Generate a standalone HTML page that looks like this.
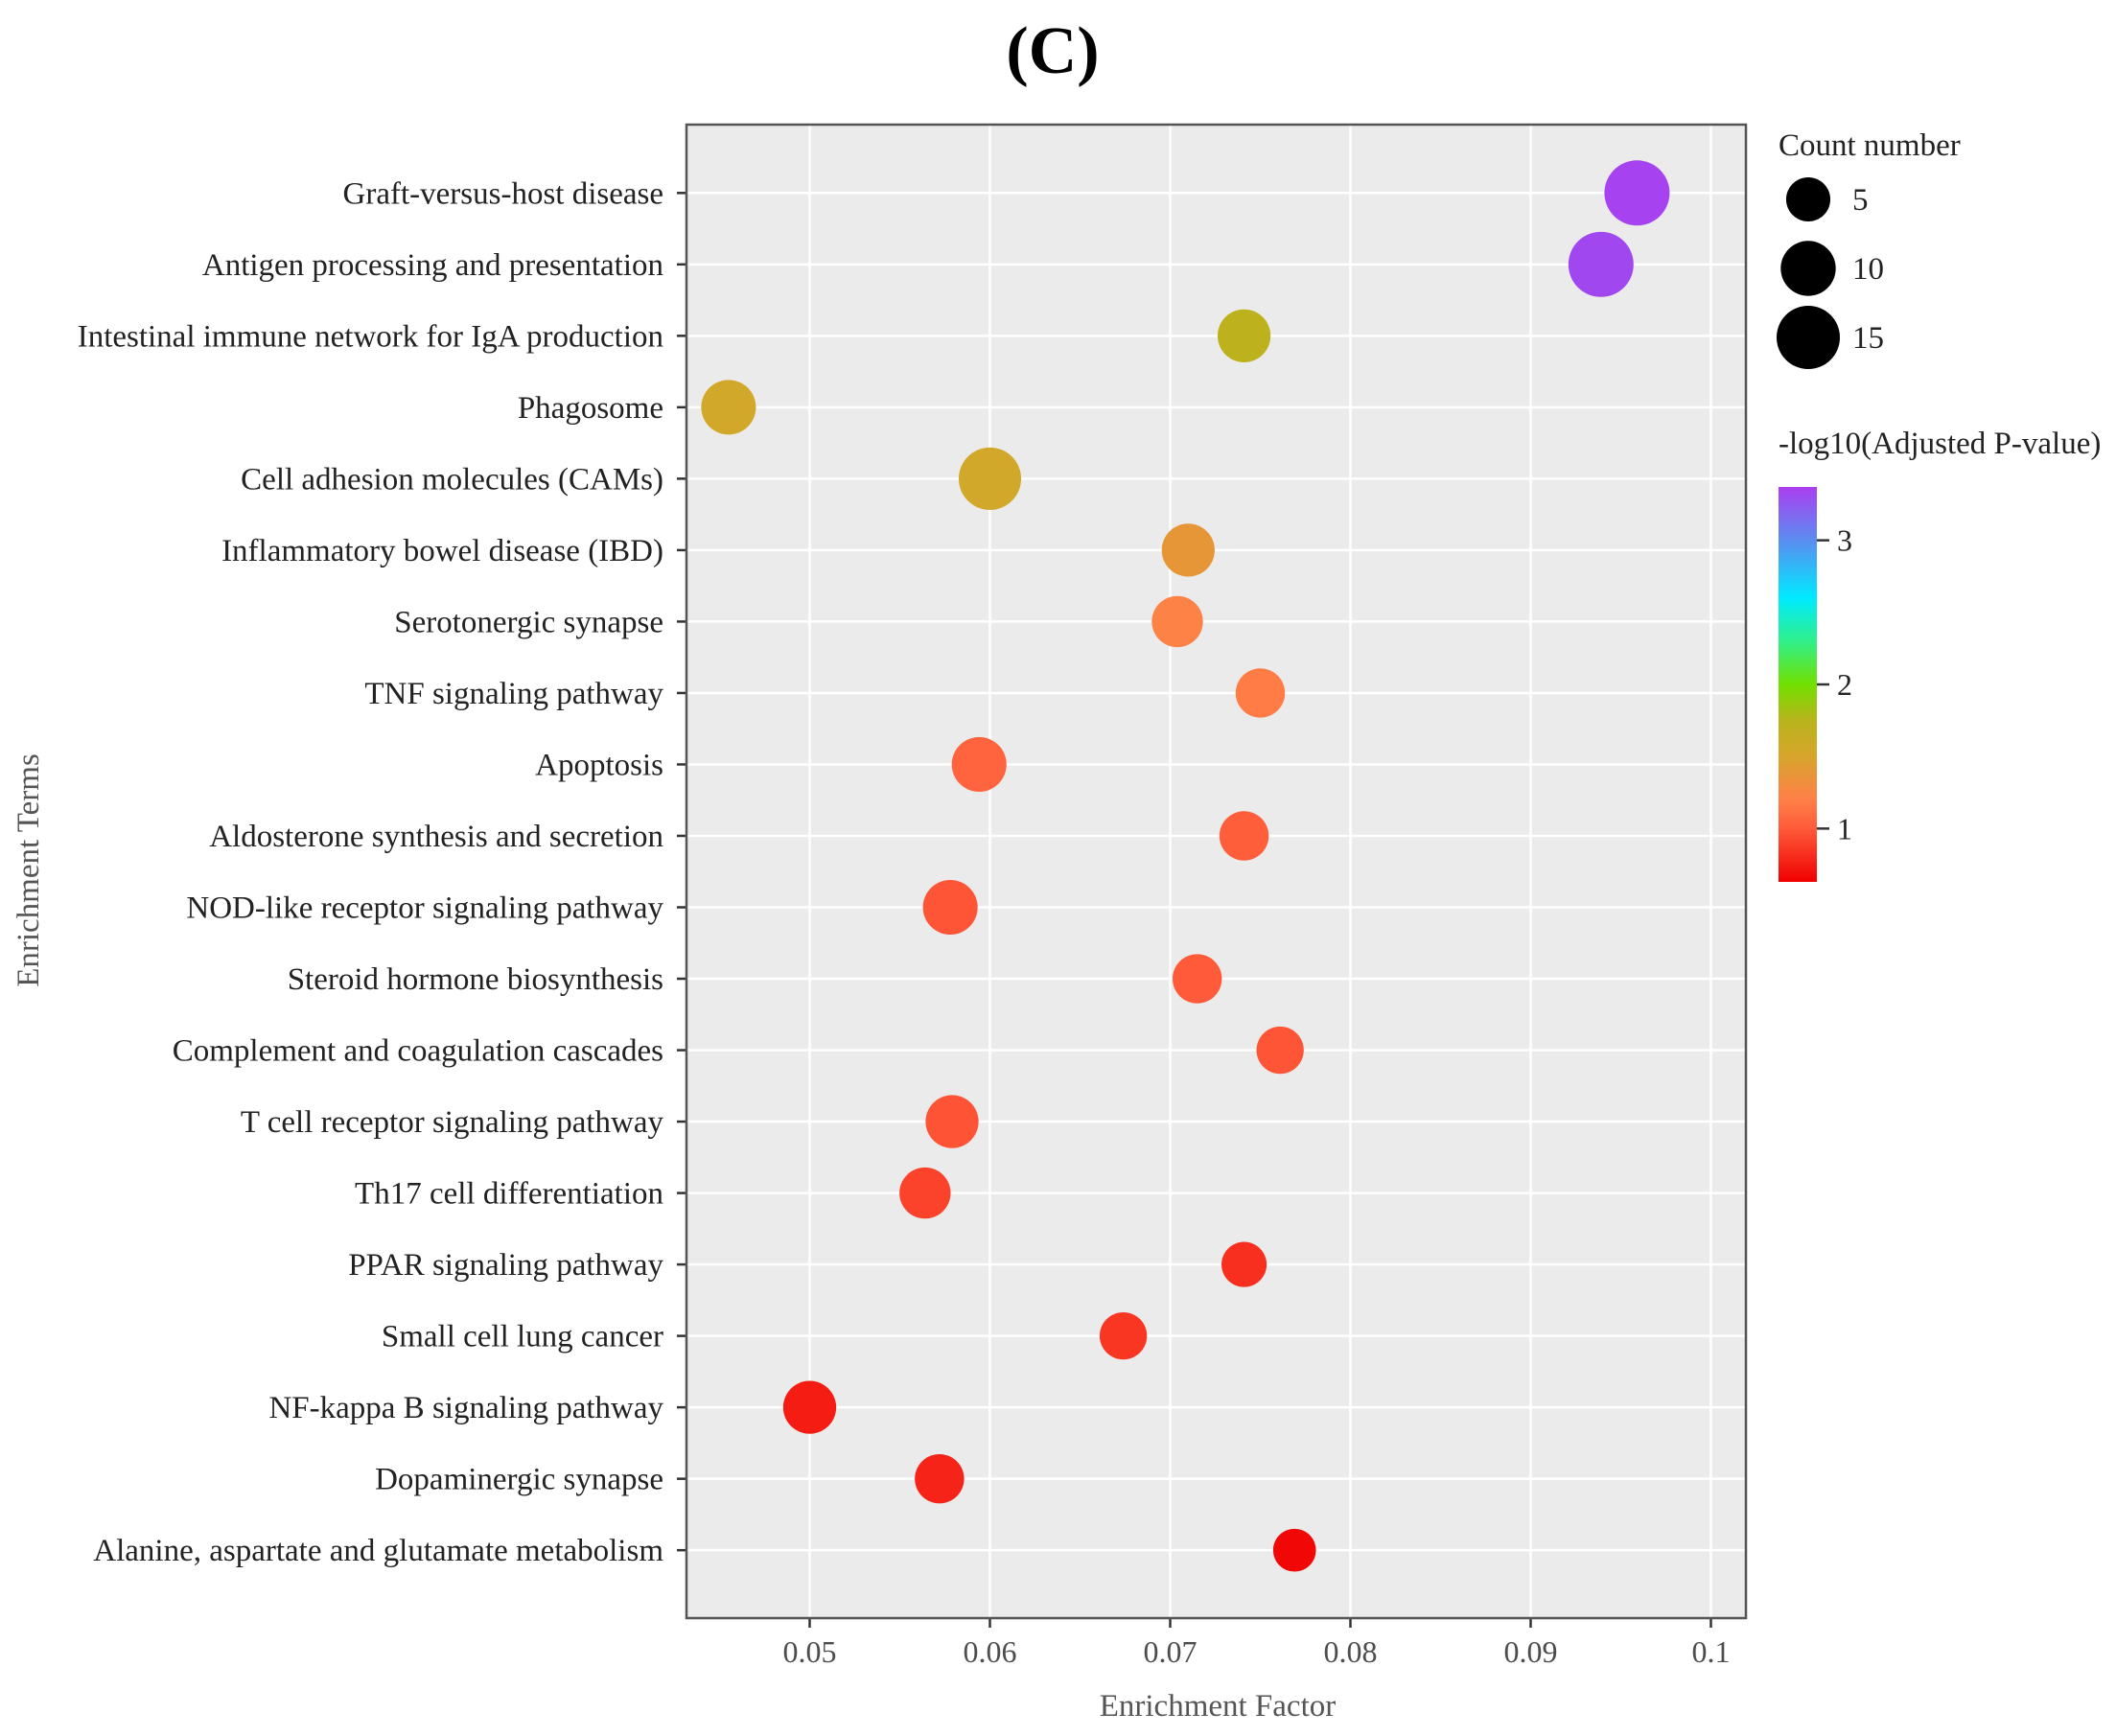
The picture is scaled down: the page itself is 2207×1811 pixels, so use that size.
<!DOCTYPE html>
<html><head><meta charset="utf-8"><style>
html,body{margin:0;padding:0;background:#fff;}
svg{display:block;font-family:"Liberation Serif",serif;}
</style></head><body>
<svg id="chart" width="2207" height="1811" viewBox="0 0 2207 1811" xmlns="http://www.w3.org/2000/svg">
<text x="1098" y="76" font-size="70" font-weight="bold" text-anchor="middle" fill="#000">(C)</text>
<g id="plot"></g>
</svg>
<script>
const terms = ["Graft-versus-host disease","Antigen processing and presentation","Intestinal immune network for IgA production","Phagosome","Cell adhesion molecules (CAMs)","Inflammatory bowel disease (IBD)","Serotonergic synapse","TNF signaling pathway","Apoptosis","Aldosterone synthesis and secretion","NOD-like receptor signaling pathway","Steroid hormone biosynthesis","Complement and coagulation cascades","T cell receptor signaling pathway","Th17 cell differentiation","PPAR signaling pathway","Small cell lung cancer","NF-kappa B signaling pathway","Dopaminergic synapse","Alanine, aspartate and glutamate metabolism"];
const enrichment = [0.0959,0.0939,0.0741,0.0455,0.0600,0.0710,0.0704,0.0750,0.0594,0.0741,0.0578,0.0715,0.0761,0.0579,0.0564,0.0741,0.0674,0.0500,0.0572,0.0769];
const counts = [19,19,11,12,17,11,10,9,12,9,12,9,8,11,10,7,8,11,9,6];
const logp = [3.35,3.33,1.72,1.55,1.55,1.38,1.22,1.18,1.05,1.02,0.98,1.0,0.98,0.97,0.9,0.82,0.85,0.75,0.78,0.66];
const xTicks = [0.05,0.06,0.07,0.08,0.09,0.1];
const xTickLabels = ["0.05","0.06","0.07","0.08","0.09","0.1"];
const sizeLegend = [5,10,15];
const colorTicks = [1,2,3];

const NS="http://www.w3.org/2000/svg";
const g=document.getElementById('plot');
function el(tag,attrs,parent){const e=document.createElementNS(NS,tag);for(const k in attrs)e.setAttribute(k,attrs[k]);(parent||g).appendChild(e);return e;}
const P={l:716,t:130,r:1821,b:1688};
const xScale=v=>844.5+(v-0.05)*18800;
const yScale=i=>201.3+i*74.52;
const rScale=c=>6.1*Math.sqrt(c)+7.4;
const stops=[[0.63,[240,0,0]],[1.0,[255,90,58]],[1.2,[255,128,72]],[1.5,[215,165,44]],[1.75,[185,180,28]],[2.0,[114,224,0]],[2.3,[47,240,138]],[2.6,[0,234,255]],[3.0,[91,141,240]],[3.37,[170,62,240]]];
function colorOf(v){if(v<=stops[0][0])return 'rgb('+stops[0][1]+')';for(let i=1;i<stops.length;i++){if(v<=stops[i][0]){const a=stops[i-1],b=stops[i];const t=(v-a[0])/(b[0]-a[0]);const c=a[1].map((x,k)=>Math.round(x+(b[1][k]-x)*t));return 'rgb('+c+')';}}return 'rgb('+stops[stops.length-1][1]+')';}

const bg=el('rect',{x:P.l,y:P.t,width:P.r-P.l,height:P.b-P.t,fill:'#ebebeb'});


xTicks.forEach((v,i)=>{const x=xScale(v);
 const gl=el('line',{x1:x,x2:x,y1:P.t,y2:P.b,stroke:'#fff','stroke-width':2.5});
 
 
 const tk=el('line',{x1:x,x2:x,y1:P.b,y2:P.b+10,stroke:'#333','stroke-width':2.5});
 
 
 const t=el('text',{x:x,y:P.b+46,'font-size':32,'text-anchor':'middle',fill:'#4d4d4d'});t.textContent=xTickLabels[i];
 
 
});
terms.forEach((name,i)=>{const y=yScale(i);
 const gl=el('line',{x1:P.l,x2:P.r,y1:y,y2:y,stroke:'#fff','stroke-width':2.5});
 
 
 const tk=el('line',{x1:P.l-10,x2:P.l,y1:y,y2:y,stroke:'#333','stroke-width':2.5});
 
 
 const t=el('text',{x:P.l-24,y:y+11,'font-size':33,'text-anchor':'end',fill:'#222'});t.textContent=name;
 
 
});
terms.forEach((name,i)=>{
 const c=el('circle',{cx:xScale(enrichment[i]),cy:yScale(i),r:rScale(counts[i]),fill:colorOf(logp[i])});
 
 
});
const br=el('rect',{x:P.l,y:P.t,width:P.r-P.l,height:P.b-P.t,fill:'none',stroke:'#555','stroke-width':2.5});


const xt=el('text',{x:1270,y:1790,'font-size':33,'text-anchor':'middle',fill:'#555'});xt.textContent='Enrichment Factor';


const yt=el('text',{x:0,y:0,'font-size':33,'text-anchor':'middle',fill:'#555',transform:'translate(40,908) rotate(-90)'});yt.textContent='Enrichment Terms';


const st=el('text',{x:1855,y:162,'font-size':33,fill:'#222'});st.textContent='Count number';


sizeLegend.forEach((c,i)=>{const y=208+i*72;
 const ci=el('circle',{cx:1886,cy:y,r:rScale(c)+2,fill:'#000'});
 
 
 const t=el('text',{x:1932,y:y+11,'font-size':33,fill:'#222'});t.textContent=String(c);
 
 
});
const ct=el('text',{x:1855,y:473,'font-size':33,fill:'#222'});ct.textContent='-log10(Adjusted P-value)';


const defs=el('defs',{});
const lg=el('linearGradient',{id:'cbar',x1:0,y1:1,x2:0,y2:0},defs);
const cTop=3.37,cBot=0.63;
stops.forEach(s=>{el('stop',{offset:((s[0]-cBot)/(cTop-cBot)).toFixed(4),'stop-color':'rgb('+s[1]+')'},lg);});
const cb=el('rect',{x:1855,y:508,width:40,height:412,fill:'url(#cbar)'});


colorTicks.forEach(v=>{const y=920-(v-cBot)/(cTop-cBot)*412;
 const tk=el('line',{x1:1895,x2:1908,y1:y,y2:y,stroke:'#333','stroke-width':2.5});
 
 
 const t=el('text',{x:1916,y:y+11,'font-size':32,fill:'#222'});t.textContent=String(v);
 
 
});
</script>
</body></html>
